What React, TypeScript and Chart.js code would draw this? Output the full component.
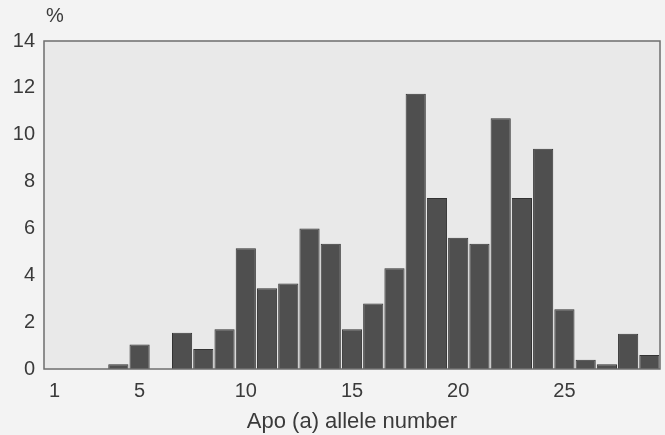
import React, { useEffect, useRef } from "react";
import { Chart, registerables } from "chart.js";

Chart.register(...registerables);

const categories: string[] = [
  "1", "2", "3", "4", "5", "6", "7", "8", "9", "10",
  "11", "12", "13", "14", "15", "16", "17", "18", "19", "20",
  "21", "22", "23", "24", "25", "26", "27", "28", "29",
];

const percentValues: number[] = [
  0, 0, 0, 0.2, 1.05, 0, 1.55, 0.85, 1.7, 5.15,
  3.45, 3.65, 6.0, 5.35, 1.7, 2.8, 4.3, 11.75, 7.3, 5.6,
  5.35, 10.7, 7.3, 9.4, 2.55, 0.4, 0.2, 1.5, 0.6,
];

const shownXTicks: string[] = ["1", "5", "10", "15", "20", "25"];
const yTickValues: number[] = [0, 2, 4, 6, 8, 10, 12, 14];

const FONT = "'Liberation Sans', Arial, Helvetica, sans-serif";
const TEXT = "#3a3a3a";

const framePlugin = {
  id: "framePlugin",
  beforeDraw(chart: any) {
    const { ctx, chartArea, width, height } = chart;
    ctx.save();
    ctx.fillStyle = "#f3f3f3";
    ctx.fillRect(0, 0, width, height);
    ctx.fillStyle = "#e9e9e9";
    ctx.fillRect(chartArea.left, chartArea.top, chartArea.right - chartArea.left, chartArea.bottom - chartArea.top);
    ctx.restore();
  },
  afterDraw(chart: any) {
    const { ctx, chartArea } = chart;
    ctx.save();
    ctx.strokeStyle = "#6e6e6e";
    ctx.lineWidth = 1.5;
    ctx.strokeRect(chartArea.left, chartArea.top, chartArea.right - chartArea.left, chartArea.bottom - chartArea.top);
    ctx.fillStyle = TEXT;
    ctx.font = `20px ${FONT}`;
    ctx.textAlign = "center";
    ctx.textBaseline = "middle";
    ctx.fillText("%", chartArea.left + 11, 16);
    ctx.restore();
  },
};

export default function App() {
  const ref = useRef<HTMLCanvasElement | null>(null);

  useEffect(() => {
    document.body.style.margin = "0";
    if (!ref.current) return;
    const chart = new Chart(ref.current, {
      type: "bar",
      data: {
        labels: categories,
        datasets: [
          {
            data: percentValues,
            backgroundColor: "#4f4f4f",
            borderColor: "#333333",
            borderWidth: 1,
            barPercentage: 1,
            categoryPercentage: 0.95,
          },
        ],
      },
      options: {
        animation: false,
        responsive: false,
        maintainAspectRatio: false,
        layout: { padding: { top: 41, right: 5, left: 0, bottom: 0 } },
        plugins: {
          legend: { display: false },
          tooltip: { enabled: false },
        },
        scales: {
          x: {
            type: "category",
            grid: { display: false, drawTicks: false },
            border: { display: false },
            ticks: {
              autoSkip: false,
              maxRotation: 0,
              padding: 10,
              color: TEXT,
              font: { family: FONT, size: 20 },
              callback: (_v: any, i: number) =>
                shownXTicks.includes(categories[i]) ? categories[i] : "",
            },
            title: {
              display: true,
              text: "Apo (a) allele number",
              color: TEXT,
              font: { family: FONT, size: 22 },
              padding: { top: 0, bottom: 0 },
            },
            afterFit: (s: any) => {
              s.height = 66;
            },
          },
          y: {
            min: 0,
            max: 14,
            grid: { display: false, drawTicks: false },
            border: { display: false },
            afterBuildTicks: (s: any) => {
              s.ticks = yTickValues.map((v) => ({ value: v }));
            },
            ticks: {
              padding: 9,
              color: TEXT,
              font: { family: FONT, size: 20 },
            },
            afterFit: (s: any) => {
              s.width = 44;
            },
          },
        },
      },
      plugins: [framePlugin],
    });
    return () => chart.destroy();
  }, []);

  return <canvas ref={ref} width={665} height={435} style={{ display: "block" }} />;
}
